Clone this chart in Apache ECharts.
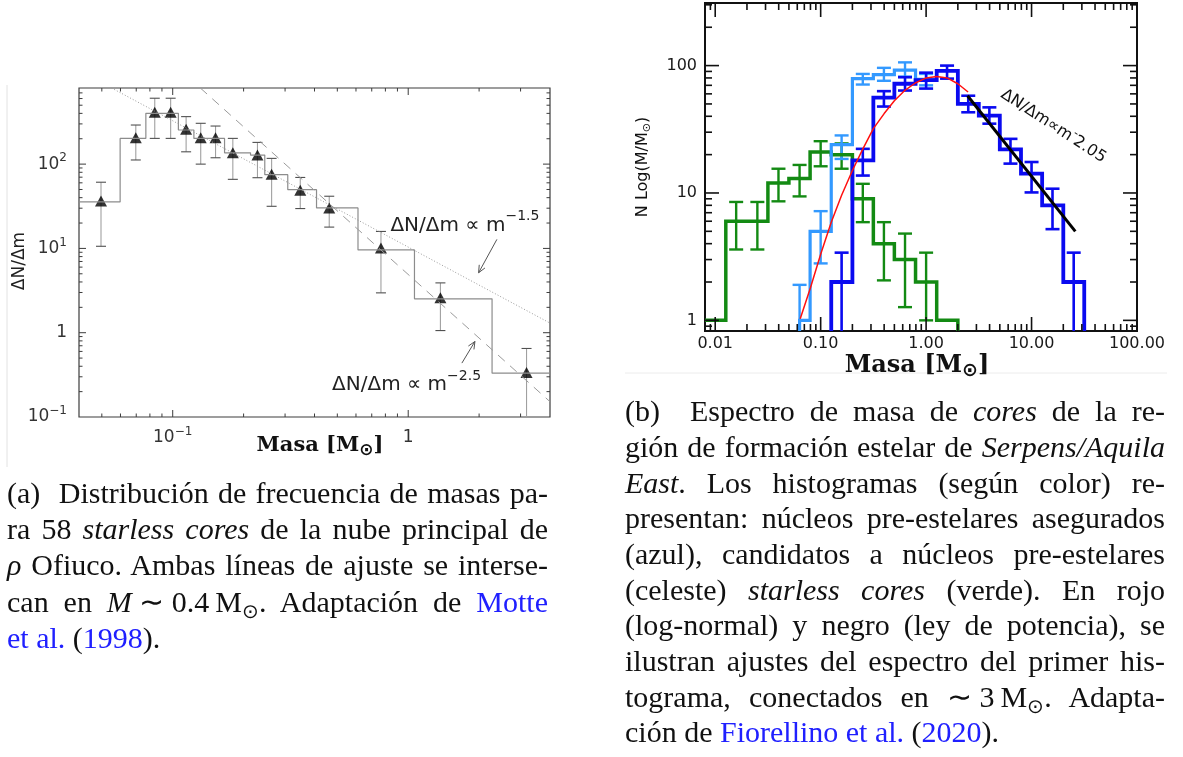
<!DOCTYPE html>
<html>
<head>
<meta charset="utf-8">
<script src="https://cdn.jsdelivr.net/npm/echarts@6/dist/echarts.min.js"></script>
<style>
html, body { margin: 0; padding: 0; background: #fff; }
#chart { position: absolute; left: 0; top: 0; width: 1183px; height: 757px; }
.cap { position: absolute; top: 0; height: 0; font-family: "Liberation Serif", "Times New Roman", serif; font-size: 30px; color: #111; }
.cap div { position: absolute; left: 0; right: 0; height: 36px; line-height: 36px; white-space: nowrap; text-align: justify; text-align-last: justify; }
.cap div.last { text-align: left; text-align-last: left; }
.lnk { color: #2020ff; }
.cap sub { font-size: 0.68em; vertical-align: -0.3em; line-height: 0; }
</style>
</head>
<body>
<div id="chart"></div>

<div class="cap" style="left:7px; width:541px;">
  <div style="top:475px">(a)&nbsp; Distribución de frecuencia de masas pa-</div>
  <div style="top:511px">ra 58 <i>starless cores</i> de la nube principal de</div>
  <div style="top:547px"><i>ρ</i> Ofiuco. Ambas líneas de ajuste se interse-</div>
  <div style="top:584px">can en <i>M</i>&#8197;∼&#8197;0.4&#8201;M<sub>⊙</sub>. Adaptación de <span class="lnk">Motte</span></div>
  <div class="last" style="top:620px"><span class="lnk">et al.</span> (<span class="lnk">1998</span>).</div>
</div>

<div class="cap" style="left:625px; width:540px;">
  <div style="top:393px">(b)&nbsp; Espectro de masa de <i>cores</i> de la re-</div>
  <div style="top:429px">gión de formación estelar de <i>Serpens/Aquila</i></div>
  <div style="top:465px"><i>East</i>. Los histogramas (según color) re-</div>
  <div style="top:500px">presentan: núcleos pre-estelares asegurados</div>
  <div style="top:536px">(azul), candidatos a núcleos pre-estelares</div>
  <div style="top:572px">(celeste) <i>starless cores</i> (verde). En rojo</div>
  <div style="top:607px">(log-normal) y negro (ley de potencia), se</div>
  <div style="top:643px">ilustran ajustes del espectro del primer his-</div>
  <div style="top:679px">tograma, conectados en ∼&#8197;3&#8201;M<sub>⊙</sub>. Adapta-</div>
  <div class="last" style="top:714px">ción de <span class="lnk">Fiorellino et al.</span> (<span class="lnk">2020</span>).</div>
</div>

<script>
// ---------- Panel (a): starless cores of the rho Oph main cloud ----------
const aBinEdges  = [0.04, 0.0598, 0.0769, 0.1057, 0.123, 0.166, 0.214, 0.246, 0.308, 0.408, 0.612, 1.063, 2.27, 4.0];
const aBinCounts = [35.6, 202, 401, 254, 202, 136, 128, 75, 49.7, 30.2, 9.6, 2.52, 0.331];

const aPtMass = [0.0496, 0.0697, 0.0839, 0.098, 0.114, 0.1315, 0.152, 0.180, 0.229, 0.263, 0.348, 0.462, 0.766, 1.37, 3.18];
const aPtVal  = [36.6, 205, 412, 412, 259, 205, 205, 136, 128, 76, 49, 30.2, 10.1, 2.59, 0.337];
const aPtHi   = [61, 291, 605, 605, 366, 305, 283, 202, 181, 117, 69.5, 41.6, 15.9, 3.9, 0.65];
const aPtLo   = [10.6, 112, 202, 202, 140, 100, 119, 66, 69, 31.6, 29.7, 17.9, 2.97, 1.06, 0.1];

// power-law fits, given by their end points (straight on log-log axes)
const aFitShallow = [[0.055, 800], [4.0, 1.3]];    // dN/dm ∝ m^-1.5
const aFitSteep   = [[0.131, 800], [4.0, 0.152]];  // dN/dm ∝ m^-2.5

const aNoteAnchor = [[0.84, 18.8], [0.475, 0.24]];
const aNoteText   = ['ΔN/Δm ∝ m{s|−1.5}', 'ΔN/Δm ∝ m{s|−2.5}'];
const aArrowTail  = [[2.38, 12.8], [1.69, 0.436]];
const aArrowTip   = [[1.99, 5.14], [1.92, 0.787]];

const aXRange = [0.04, 4], aYRange = [0.1, 800];
const aXLabelVals = [0.1, 1],  aXLabelText = ['10{s|−1}', '1'];
const aYLabelVals = [0.1, 1, 10, 100], aYLabelText = ['10{s|−1}', '1', '10{s|1}', '10{s|2}'];

// ---------- Panel (b): Serpens/Aquila East core mass spectrum ----------
const bGreenEdges  = [0.008, 0.0126, 0.02, 0.0316, 0.05, 0.0794, 0.126, 0.2, 0.316, 0.5, 0.794, 1.26, 2.0];
const bGreenCounts = [1, 6, 6, 12, 13, 21, 20, 9, 4, 3, 2, 1];
const bGreenErrX   = [0.0158, 0.0251, 0.0398, 0.0631, 0.1, 0.158, 0.251, 0.398, 0.631, 1.0];
const bGreenErrHi  = [8.5, 8.5, 15.5, 16.6, 25.5, 24.5, 11.8, 5.9, 4.8, 3.4];
const bGreenErrLo  = [3.6, 3.6, 8.6, 9.4, 16.2, 15.5, 5.9, 2.06, 1.27, 1.0];

const bCyanEdges  = [0.0631, 0.0794, 0.126, 0.2, 0.316, 0.5, 0.794, 1.26];
const bCyanCounts = [1, 5, 24, 79, 85, 92, 78];
const bCyanErrX   = [0.0631, 0.1, 0.158, 0.251, 0.398, 0.631, 1.0];
const bCyanErrHi  = [1.9, 7.2, 28.3, 86, 96, 106, 86];
const bCyanErrLo  = [0.825, 2.8, 18.5, 71, 76, 82, 70];

const bBlueEdges  = [0.126, 0.2, 0.316, 0.5, 0.794, 1.26, 2.0, 3.16, 5.0, 7.94, 12.6, 20, 31.6];
const bBlueCounts = [2, 18, 56, 72, 77, 91, 50, 40.5, 22, 14.2, 8, 2];
const bBlueErrX   = [0.158, 0.251, 0.398, 0.631, 1.0, 1.58, 2.51, 3.98, 6.31, 10, 15.8, 25.1];
const bBlueErrHi  = [3.4, 22.2, 63, 81, 88, 100, 58, 47, 26.6, 17.5, 10.8, 3.4];
const bBlueErrLo  = [0.825, 13.7, 47.7, 63.7, 66, 79, 43, 35, 17, 10.1, 5.2, 0.825];

// log-normal fit (red) and power-law tail (black)
const bLogNormX = [0.064, 0.08, 0.1, 0.126, 0.158, 0.2, 0.25, 0.316, 0.4, 0.5, 0.63, 0.79, 1.0, 1.26, 1.58, 2.0, 2.5];
const bLogNormY = [1.03, 1.8, 3.3, 5.9, 9.6, 15, 22, 32, 42, 53, 64, 73, 80, 82, 80, 72, 62];
const bPowerLaw = [[2.47, 58], [26, 5.0]];

const bNoteAnchor = [16.1, 33.5];
const bNoteText = 'ΔN/Δm∝m{s|-}2.05';

const bXRange = [0.008, 100], bYRange = [0.825, 310];
const bXLabelVals = [0.01, 0.1, 1, 10, 100], bXLabelText = ['0.01', '0.10', '1.00', '10.00', '100.00'];
const bYLabelVals = [1, 10, 100], bYLabelText = ['1', '10', '100'];

// ---------- helpers ----------
function stepPath(edges, counts, floorY, closeLeft, closeRight) {
  const pts = [];
  if (closeLeft) pts.push([edges[0], floorY]);
  counts.forEach((c, i) => { pts.push([edges[i], c], [edges[i + 1], c]); });
  if (closeRight) pts.push([edges[edges.length - 1], floorY]);
  return pts;
}
function zip3(a, b, c) { return a.map((v, i) => [v, b[i], c[i]]); }

function logTicks(min, max) {
  const out = [];
  for (let d = Math.floor(Math.log10(min)); d <= Math.ceil(Math.log10(max)); d++) {
    for (let k = 1; k <= 9; k++) {
      const v = k * Math.pow(10, d);
      if (v > min * 1.001 && v < max * 0.999) out.push({ v: v, major: k === 1 });
    }
  }
  return out;
}

function errorBars(color, capColor, width, cap, floorY) {
  return function (params, api) {
    const x = api.value(0), lo = api.value(1), hi = api.value(2);
    const a = api.coord([x, lo]), b = api.coord([x, hi]);
    const kids = [
      { type: 'line', shape: { x1: a[0], y1: a[1], x2: b[0], y2: b[1] }, style: { stroke: color, lineWidth: width } },
      { type: 'line', shape: { x1: b[0] - cap, y1: b[1], x2: b[0] + cap, y2: b[1] }, style: { stroke: capColor, lineWidth: width } }
    ];
    if (lo > floorY * 1.001) {
      kids.push({ type: 'line', shape: { x1: a[0] - cap, y1: a[1], x2: a[0] + cap, y2: a[1] }, style: { stroke: capColor, lineWidth: width } });
    }
    return { type: 'group', children: kids };
  };
}

// inward ticks on all four sides plus tick labels, placed through the axis scales
function frameDecor(cfg) {
  return function (params, api) {
    const kids = [];
    const bl = api.coord([cfg.x[0], cfg.y[0]]);
    const tr = api.coord([cfg.x[1], cfg.y[1]]);
    const st = { stroke: cfg.color, lineWidth: cfg.tickWidth };
    logTicks(cfg.x[0], cfg.x[1]).forEach(t => {
      const px = api.coord([t.v, cfg.y[0]])[0];
      const L = t.major ? cfg.major : cfg.minor;
      kids.push({ type: 'line', shape: { x1: px, y1: bl[1], x2: px, y2: bl[1] - L }, style: st });
      kids.push({ type: 'line', shape: { x1: px, y1: tr[1], x2: px, y2: tr[1] + L }, style: st });
    });
    logTicks(cfg.y[0], cfg.y[1]).forEach(t => {
      const py = api.coord([cfg.x[0], t.v])[1];
      const L = t.major ? cfg.major : cfg.minor;
      kids.push({ type: 'line', shape: { x1: bl[0], y1: py, x2: bl[0] + L, y2: py }, style: st });
      kids.push({ type: 'line', shape: { x1: tr[0], y1: py, x2: tr[0] - L, y2: py }, style: st });
    });
    const lab = cfg.label;
    cfg.xVals.forEach((v, i) => {
      const px = api.coord([v, cfg.y[0]])[0];
      kids.push({ type: 'text', x: px, y: bl[1] + cfg.xGap, style: Object.assign({ text: cfg.xText[i], align: 'center', verticalAlign: 'middle' }, lab) });
    });
    cfg.yVals.forEach((v, i) => {
      const py = api.coord([cfg.x[0], v])[1];
      kids.push({ type: 'text', x: bl[0] - cfg.yGap, y: py, style: Object.assign({ text: cfg.yText[i], align: 'right', verticalAlign: 'middle' }, lab) });
    });
    return { type: 'group', children: kids };
  };
}

function arrow(tail, tip, color) {
  const dx = tail[0] - tip[0], dy = tail[1] - tip[1];
  const len = Math.hypot(dx, dy), ux = dx / len, uy = dy / len;
  const h = 8, ang = 0.42;
  const r = (c, s) => [tip[0] + h * (ux * c - uy * s), tip[1] + h * (uy * c + ux * s)];
  const p1 = r(Math.cos(ang), Math.sin(ang)), p2 = r(Math.cos(ang), -Math.sin(ang));
  const st = { stroke: color, lineWidth: 1 };
  return [
    { type: 'line', shape: { x1: tail[0], y1: tail[1], x2: tip[0], y2: tip[1] }, style: st },
    { type: 'polyline', shape: { points: [p1, tip, p2] }, style: Object.assign({ fill: null }, st) }
  ];
}

const supRich = (size, lh, color) => ({ s: { fontSize: size, lineHeight: lh, verticalAlign: 'top', fontFamily: 'DejaVu Sans', fill: color } });

const chart = echarts.init(document.getElementById('chart'), null, { renderer: 'canvas', width: 1183, height: 757 });

const hiddenAxis = { axisLine: { show: false }, axisTick: { show: false }, axisLabel: { show: false }, splitLine: { show: false } };

chart.setOption({
  animation: false,
  backgroundColor: '#fff',
  grid: [
    { left: 79, top: 88, width: 471, height: 329, show: true, borderColor: '#3c3c3c', borderWidth: 1.2, backgroundColor: 'rgba(0,0,0,0)', outerBoundsMode: 'none' },
    { left: 705, top: 3, width: 432, height: 328, show: true, borderColor: '#111', borderWidth: 2, backgroundColor: 'rgba(0,0,0,0)', outerBoundsMode: 'none' }
  ],
  xAxis: [
    Object.assign({ type: 'log', logBase: 10, gridIndex: 0, min: aXRange[0], max: aXRange[1] }, hiddenAxis),
    Object.assign({ type: 'log', logBase: 10, gridIndex: 1, min: bXRange[0], max: bXRange[1] }, hiddenAxis)
  ],
  yAxis: [
    Object.assign({ type: 'log', logBase: 10, gridIndex: 0, min: aYRange[0], max: aYRange[1] }, hiddenAxis),
    Object.assign({ type: 'log', logBase: 10, gridIndex: 1, min: bYRange[0], max: bYRange[1] }, hiddenAxis)
  ],
  graphic: [
    { type: 'line', shape: { x1: 7, y1: 85, x2: 7, y2: 467 }, style: { stroke: '#e2e2e2', lineWidth: 1 } },
    { type: 'line', shape: { x1: 625, y1: 373, x2: 1167, y2: 373 }, style: { stroke: '#ececec', lineWidth: 1 } },
    { type: 'text', x: 320, y: 446, style: { text: 'Masa [M{o|⊙}]', fontFamily: 'DejaVu Serif', fontWeight: 'bold', fontSize: 21, fill: '#111', align: 'center', verticalAlign: 'middle', lineHeight: 26,
        rich: { o: { fontFamily: 'DejaVu Sans', fontWeight: 'bold', fontSize: 17, lineHeight: 20, verticalAlign: 'bottom', fill: '#111' } } } },
    { type: 'text', x: 20, y: 261, rotation: Math.PI / 2, style: { text: 'ΔN/Δm', fontFamily: 'DejaVu Sans', fontSize: 17, fill: '#222', align: 'center', verticalAlign: 'middle' } },
    { type: 'text', x: 917, y: 366, style: { text: 'Masa [M{o|⊙}]', fontFamily: 'DejaVu Serif', fontWeight: 'bold', fontSize: 24, fill: '#111', align: 'center', verticalAlign: 'middle', lineHeight: 30,
        rich: { o: { fontFamily: 'DejaVu Sans', fontWeight: 'bold', fontSize: 19, lineHeight: 22, verticalAlign: 'bottom', fill: '#111' } } } },
    { type: 'text', x: 643, y: 167, rotation: Math.PI / 2, style: { text: 'N Log(M/M{o|⊙})', fontFamily: 'DejaVu Sans', fontSize: 16, fill: '#111', align: 'center', verticalAlign: 'middle', lineHeight: 20,
        rich: { o: { fontFamily: 'DejaVu Sans', fontSize: 11, lineHeight: 12, verticalAlign: 'bottom', fill: '#111' } } } }
  ],
  series: [
    // ----- panel (a) -----
    { type: 'line', xAxisIndex: 0, yAxisIndex: 0, data: stepPath(aBinEdges, aBinCounts, aYRange[0], false, false),
      symbol: 'none', lineStyle: { color: '#8c8c8c', width: 1.2 } },
    { type: 'line', xAxisIndex: 0, yAxisIndex: 0, data: aFitShallow, symbol: 'none',
      lineStyle: { color: '#9a9a9a', width: 1, type: [1, 2] } },
    { type: 'line', xAxisIndex: 0, yAxisIndex: 0, data: aFitSteep, symbol: 'none',
      lineStyle: { color: '#9a9a9a', width: 1, type: [9, 7] } },
    { type: 'custom', xAxisIndex: 0, yAxisIndex: 0, data: zip3(aPtMass, aPtLo, aPtHi), encode: { x: 0, y: [1, 2] },
      renderItem: errorBars('#a0a0a0', '#505050', 1.1, 5, aYRange[0]), silent: true },
    { type: 'scatter', xAxisIndex: 0, yAxisIndex: 0, data: aPtMass.map((m, i) => [m, aPtVal[i]]),
      symbol: 'triangle', symbolSize: [12, 11], itemStyle: { color: '#000' }, silent: true },
    { type: 'custom', xAxisIndex: 0, yAxisIndex: 0, data: [[aXRange[0], aYRange[0]]], encode: { x: 0, y: 1 }, silent: true, z: 6,
      renderItem: function (params, api) {
        const kids = [];
        aNoteAnchor.forEach((p, i) => {
          const c = api.coord(p);
          kids.push({ type: 'text', x: c[0], y: c[1], style: { text: aNoteText[i], fontFamily: 'DejaVu Sans', fontSize: 20, lineHeight: 32, fill: '#222',
            align: 'left', verticalAlign: 'middle', rich: supRich(14, 14, '#222') } });
        });
        aArrowTail.forEach((t, i) => { kids.push.apply(kids, arrow(api.coord(t), api.coord(aArrowTip[i]), '#555')); });
        return { type: 'group', children: kids };
      } },
    { type: 'custom', xAxisIndex: 0, yAxisIndex: 0, data: [[aXRange[0], aYRange[0]]], encode: { x: 0, y: 1 }, silent: true, z: 5,
      renderItem: frameDecor({ x: aXRange, y: aYRange, color: '#3c3c3c', tickWidth: 1, major: 7, minor: 3.5,
        xVals: aXLabelVals, xText: aXLabelText, yVals: aYLabelVals, yText: aYLabelText, xGap: 21, yGap: 12,
        label: { fontFamily: 'DejaVu Sans', fontSize: 17, lineHeight: 24, fill: '#333', rich: supRich(12, 12, '#333') } }) },

    // ----- panel (b) -----
    { type: 'line', xAxisIndex: 1, yAxisIndex: 1, data: stepPath(bGreenEdges, bGreenCounts, bYRange[0], false, true),
      symbol: 'none', lineStyle: { color: '#138a13', width: 3.5, join: 'miter' } },
    { type: 'custom', xAxisIndex: 1, yAxisIndex: 1, data: zip3(bGreenErrX, bGreenErrLo, bGreenErrHi), encode: { x: 0, y: [1, 2] },
      renderItem: errorBars('#138a13', '#138a13', 2.4, 7, bYRange[0]), silent: true },
    { type: 'line', xAxisIndex: 1, yAxisIndex: 1, data: stepPath(bCyanEdges, bCyanCounts, bYRange[0], true, false),
      symbol: 'none', lineStyle: { color: '#3399ff', width: 3.2, join: 'miter' } },
    { type: 'custom', xAxisIndex: 1, yAxisIndex: 1, data: zip3(bCyanErrX, bCyanErrLo, bCyanErrHi), encode: { x: 0, y: [1, 2] },
      renderItem: errorBars('#3399ff', '#3399ff', 2.4, 7, bYRange[0]), silent: true },
    { type: 'line', xAxisIndex: 1, yAxisIndex: 1, data: stepPath(bBlueEdges, bBlueCounts, bYRange[0], true, true),
      symbol: 'none', lineStyle: { color: '#0a0af0', width: 3.8, join: 'miter' } },
    { type: 'custom', xAxisIndex: 1, yAxisIndex: 1, data: zip3(bBlueErrX, bBlueErrLo, bBlueErrHi), encode: { x: 0, y: [1, 2] },
      renderItem: errorBars('#0a0af0', '#0a0af0', 2.6, 7, bYRange[0]), silent: true },
    { type: 'line', xAxisIndex: 1, yAxisIndex: 1, data: bLogNormX.map((m, i) => [m, bLogNormY[i]]),
      symbol: 'none', lineStyle: { color: '#ff1010', width: 1.5 } },
    { type: 'line', xAxisIndex: 1, yAxisIndex: 1, data: bPowerLaw,
      symbol: 'none', lineStyle: { color: '#000', width: 3 } },
    { type: 'custom', xAxisIndex: 1, yAxisIndex: 1, data: [[bXRange[0], bYRange[0]]], encode: { x: 0, y: 1 }, silent: true, z: 6,
      renderItem: function (params, api) {
        const c = api.coord(bNoteAnchor);
        return { type: 'text', x: c[0], y: c[1], rotation: -33 * Math.PI / 180,
          style: { text: bNoteText, fontFamily: 'DejaVu Sans', fontSize: 16, lineHeight: 24, fill: '#111', align: 'center', verticalAlign: 'middle',
            rich: supRich(12, 12, '#111') } };
      } },
    { type: 'custom', xAxisIndex: 1, yAxisIndex: 1, data: [[bXRange[0], bYRange[0]]], encode: { x: 0, y: 1 }, silent: true, z: 5,
      renderItem: frameDecor({ x: bXRange, y: bYRange, color: '#111', tickWidth: 1.6, major: 14, minor: 7,
        xVals: bXLabelVals, xText: bXLabelText, yVals: bYLabelVals, yText: bYLabelText, xGap: 13, yGap: 8,
        label: { fontFamily: 'DejaVu Sans', fontSize: 16, lineHeight: 20, fill: '#1a1a1a' } }) }
  ]
});
</script>
</body>
</html>
